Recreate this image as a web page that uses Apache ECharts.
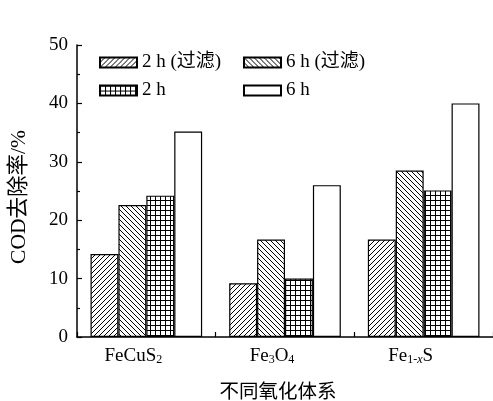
<!DOCTYPE html>
<html>
<head>
<meta charset="utf-8">
<script src="https://cdn.jsdelivr.net/npm/echarts@6/dist/echarts.min.js"></script>
<style>
html,body{margin:0;padding:0;background:#fff;}
#chart{width:493px;height:401px;}
</style>
</head>
<body>
<div id="chart"></div>
<script>
// ---- data ----
const categories = ['FeCuS2', 'Fe3O4', 'Fe1-xS'];
const seriesNames = ['2 h (过滤)', '6 h (过滤)', '2 h', '6 h'];
const filt2h = [14.2, 9.2, 16.7];
const filt6h = [22.6, 16.7, 28.5];
const plain2h = [24.2, 10.0, 25.1];
const plain6h = [35.2, 26.0, 40.0];
const yTicks = [0, 10, 20, 30, 40, 50];

// ---- patterns ----
function makePattern(type) {
  const s = 5;
  const c = document.createElement('canvas');
  c.width = s; c.height = s;
  const g = c.getContext('2d');
  g.fillStyle = '#fff';
  g.fillRect(0, 0, s, s);
  g.strokeStyle = '#000';
  g.lineWidth = 1;
  g.beginPath();
  if (type === 'fwd') {
    for (let k = -1; k <= 1; k++) { g.moveTo(k * s, s); g.lineTo(k * s + s, 0); }
  } else if (type === 'back') {
    for (let k = -1; k <= 1; k++) { g.moveTo(k * s, 0); g.lineTo(k * s + s, s); }
  } else if (type === 'grid') {
    g.moveTo(0.5, 0); g.lineTo(0.5, s);
    g.moveTo(0, 0.5); g.lineTo(s, 0.5);
  }
  g.stroke();
  return { image: c, repeat: 'repeat' };
}

const fills = [makePattern('fwd'), makePattern('back'), makePattern('grid'), '#ffffff'];
const values = [filt2h, filt6h, plain2h, plain6h];

const FONT = '"Liberation Serif", "Noto Sans CJK SC", serif';

const labelRich = {
  b: { fontFamily: FONT, fontSize: 19, color: '#000', lineHeight: 19 },
  sub: { fontFamily: FONT, fontSize: 12, color: '#000', lineHeight: 4, verticalAlign: 'bottom' },
  subi: { fontFamily: FONT, fontSize: 12, fontStyle: 'italic', color: '#000', lineHeight: 4, verticalAlign: 'bottom' }
};
function fmtCat(v) {
  if (v === 'FeCuS2') return '{b|FeCuS}{sub|2}';
  if (v === 'Fe3O4') return '{b|Fe}{sub|3}{b|O}{sub|4}';
  if (v === 'Fe1-xS') return '{b|Fe}{sub|1-}{subi|x}{b|S}';
  return v;
}

const legendBase = {
  orient: 'vertical', top: 53, itemGap: 9, padding: 0,
  itemWidth: 37, itemHeight: 10, icon: 'rect',
  textStyle: { fontFamily: FONT, fontSize: 19, color: '#000' }
};

const chart = echarts.init(document.getElementById('chart'), null, { renderer: 'canvas' });
chart.setOption({
  backgroundColor: '#fff',
  animation: false,
  textStyle: { fontFamily: FONT },
  grid: { left: 77, right: 0, top: 45, bottom: 64, containLabel: false, outerBoundsMode: 'none' },
  legend: [
    Object.assign({}, legendBase, { data: [seriesNames[0], seriesNames[2]], left: 99 }),
    Object.assign({}, legendBase, { data: [seriesNames[1], seriesNames[3]], left: 243 })
  ],
  xAxis: {
    type: 'category',
    data: categories,
    name: '不同氧化体系',
    nameLocation: 'middle',
    nameGap: 46,
    nameTextStyle: { fontFamily: FONT, fontSize: 19.5, color: '#000', padding: [0, 14, 0, 0] },
    axisLine: { lineStyle: { color: '#000', width: 1.5 } },
    axisTick: { show: true, inside: true, length: 5, alignWithLabel: false, lineStyle: { color: '#000', width: 1.2 } },
    axisLabel: { interval: 0, margin: 10, formatter: fmtCat, rich: labelRich, color: '#000', padding: [0, 26, 0, 0] },
    splitLine: { show: false }
  },
  yAxis: {
    type: 'value',
    min: 0, max: 50, interval: 10,
    name: 'COD去除率/%',
    nameLocation: 'middle',
    nameGap: 47,
    nameRotate: 90,
    nameTextStyle: { fontFamily: FONT, fontSize: 21.5, color: '#000', padding: [0, 12, 0, 0] },
    axisLine: { show: true, lineStyle: { color: '#000', width: 1.5 } },
    axisTick: { show: true, inside: true, length: 5, lineStyle: { color: '#000', width: 1.2 } },
    minorTick: { show: true, splitNumber: 2, length: 3, lineStyle: { color: '#000', width: 1.2 } },
    axisLabel: {
      margin: 9, fontFamily: FONT, fontSize: 19, color: '#000',
      formatter: function (v) { return yTicks.indexOf(v) >= 0 ? String(v) : ''; }
    },
    splitLine: { show: false }
  },
  series: seriesNames.map(function (n, i) {
    return {
      name: n,
      type: 'bar',
      data: values[i],
      barGap: '0%',
      barCategoryGap: '19.5%',
      itemStyle: { color: fills[i], borderColor: '#000', borderWidth: 1.2 },
      emphasis: { disabled: true }
    };
  })
});
</script>
</body>
</html>
